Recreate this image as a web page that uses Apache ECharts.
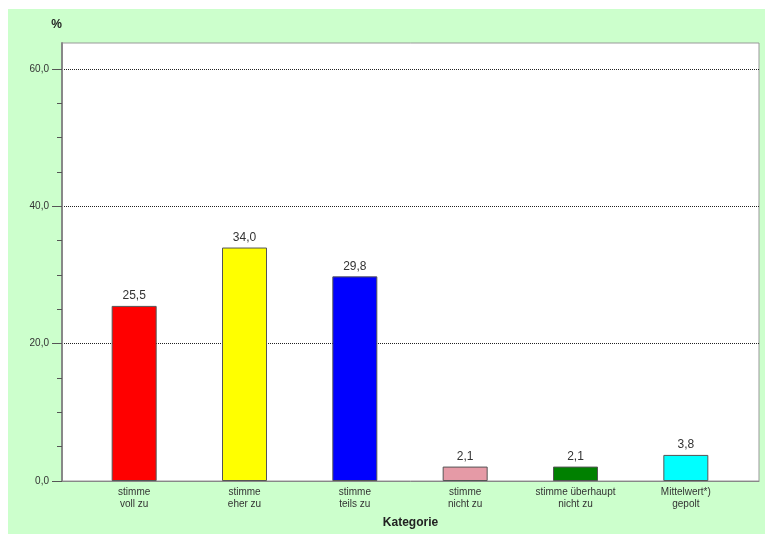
<!DOCTYPE html>
<html><head><meta charset="utf-8">
<script src="https://cdn.jsdelivr.net/npm/echarts@6/dist/echarts.min.js"></script>
<style>html,body{margin:0;padding:0;background:#fff}#c{width:765px;height:534px}</style>
</head><body><div id="c"></div>
<script>
var categories = ['stimme\nvoll zu', 'stimme\neher zu', 'stimme\nteils zu', 'stimme\nnicht zu', 'stimme überhaupt\nnicht zu', 'Mittelwert*)\ngepolt'];
var values = [25.5, 34.0, 29.8, 2.1, 2.1, 3.8];
var barColors = ['#ff0000', '#ffff00', '#0000ff', '#e59aa6', '#008000', '#00ffff'];
var yTickLabels = [0, 20, 40, 60];
var yMax = 60;

var fmt = function (v) { return v.toFixed(1).replace('.', ','); };
var font = 'Liberation Sans, Arial, sans-serif';
var chart = echarts.init(document.getElementById('c'));
chart.setOption({
  animation: false,
  backgroundColor: '#ffffff',
  graphic: [{ type: 'rect', left: 8, top: 9, shape: { width: 757, height: 525 }, style: { fill: '#ccffcc' }, z: -10 }],
  grid: [
    { left: 62, top: 43, right: 6, bottom: 53, show: true, backgroundColor: '#ffffff', borderColor: '#999999', borderWidth: 1 },
    { left: 79, top: 69, right: 24, bottom: 53 },
    { left: 62, top: 69, right: 6, bottom: 53 }
  ],
  xAxis: [
    { type: 'value', gridIndex: 0, min: 0, max: 1, axisLabel: { show: false }, axisTick: { show: false }, splitLine: { show: false },
      axisLine: { lineStyle: { color: '#888888', width: 1 } },
      name: 'Kategorie', nameLocation: 'middle', nameGap: 36,
      nameTextStyle: { fontFamily: font, fontWeight: 'bold', fontSize: 12, color: '#222' } },
    { type: 'category', gridIndex: 1, data: categories, axisLine: { show: false }, axisTick: { show: false },
      axisLabel: { interval: 0, fontFamily: font, fontSize: 10, color: '#333', lineHeight: 12, margin: 5 } },
    { type: 'value', gridIndex: 2, min: 0, max: 1, show: false }
  ],
  yAxis: [
    { type: 'value', gridIndex: 0, min: 0, max: 1,
      axisLine: { show: true, lineStyle: { color: '#888888', width: 2 } },
      axisTick: { show: false }, axisLabel: { show: false }, splitLine: { show: false },
      name: '%', nameLocation: 'end', nameGap: 12,
      nameTextStyle: { fontFamily: font, fontWeight: 'bold', fontSize: 12, color: '#222', align: 'right' } },
    { type: 'value', gridIndex: 2, min: 0, max: yMax, interval: 20,
      axisLine: { show: false },
      axisTick: { show: true, length: 10, lineStyle: { color: '#555' } },
      axisLabel: { fontFamily: font, fontSize: 10, color: '#333', margin: 13,
        formatter: function (v) { return yTickLabels.indexOf(v) >= 0 ? fmt(v) : ''; } },
      splitLine: { show: true, showMinLine: false, lineStyle: { type: 'dotted', color: '#222', width: 1 } } },
    { type: 'value', gridIndex: 2, min: 0, max: yMax, interval: 5, position: 'left',
      axisLine: { show: false }, axisTick: { show: true, length: 5, lineStyle: { color: '#555' } },
      axisLabel: { show: false }, splitLine: { show: false } },
    { type: 'value', gridIndex: 1, min: 0, max: yMax, show: false }
  ],
  series: [{
    type: 'bar', xAxisIndex: 1, yAxisIndex: 3, barWidth: 45,
    data: values.map(function (v, i) { return { value: v, itemStyle: { color: barColors[i] } }; }),
    itemStyle: { borderColor: '#555555', borderWidth: 1 },
    label: { show: true, position: 'top', distance: 4, fontFamily: font, fontSize: 12, color: '#333',
      formatter: function (p) { return fmt(p.value); } }
  }]
});
</script></body></html>
